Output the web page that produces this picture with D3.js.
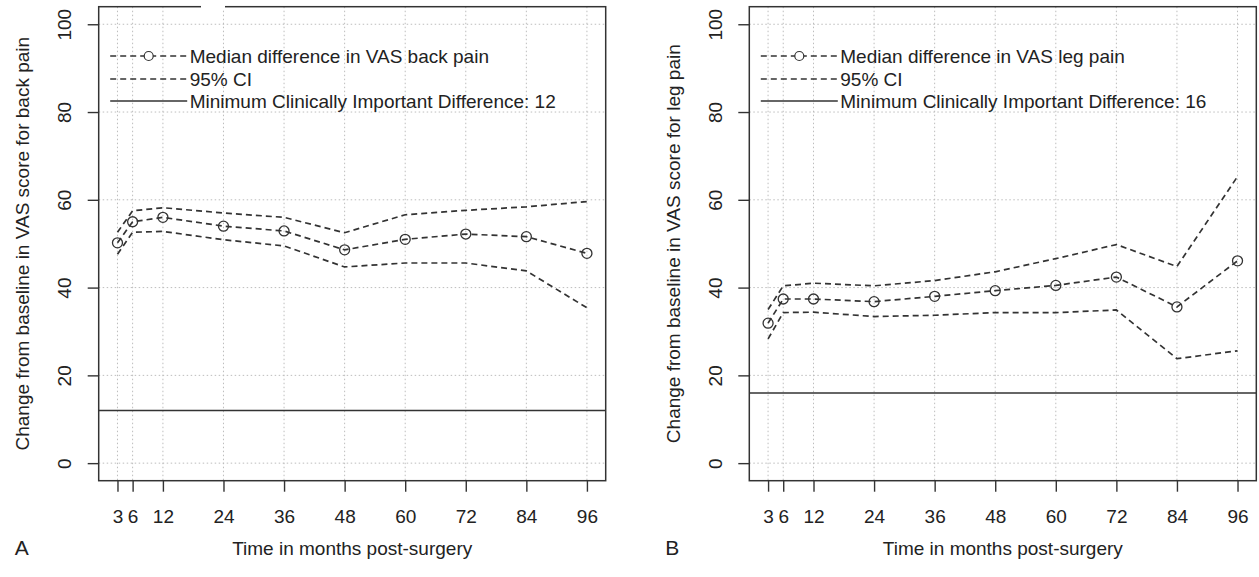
<!DOCTYPE html>
<html>
<head>
<meta charset="utf-8">
<script src="https://cdn.jsdelivr.net/npm/d3@7"></script>
<style>
  body { margin: 0; background: #fff; }
  svg text { font-family: "Liberation Sans", Arial, sans-serif; fill: #222; }
</style>
</head>
<body>
<svg id="chart"></svg>
<script>
// months after surgery
const months = [3, 6, 12, 24, 36, 48, 60, 72, 84, 96]
const yTicks = [0, 20, 40, 60, 80, 100]

// panel A: back pain
const backMedian = [50.2, 55, 56, 54, 52.9, 48.6, 51, 52.2, 51.6, 47.8]
const backLower = [47.6, 52.6, 52.8, 50.9, 49.5, 44.7, 45.6, 45.6, 43.8, 35.4]
const backUpper = [52.6, 57.5, 58.2, 57, 56, 52.5, 56.6, 57.6, 58.4, 59.6]

// panel B: leg pain
const legMedian = [31.9, 37.4, 37.4, 36.8, 38, 39.3, 40.5, 42.4, 35.6, 46.1]
const legLower = [28.3, 34.3, 34.4, 33.4, 33.7, 34.3, 34.3, 34.9, 23.8, 25.6]
const legUpper = [35, 40.4, 41, 40.4, 41.6, 43.6, 46.6, 49.8, 44.8, 65.3]

const mcidValues = [12, 16]
const panelLetters = ["A", "B"]
const painNames = ["back pain", "leg pain"]

const W = 1259, H = 577
const INK = "#333"

const svg = d3.select("#chart").attr("width", W).attr("height", H)

const panels = [
  {left: 98.7, median: backMedian, lower: backLower, upper: backUpper},
  {left: 749.3, median: legMedian, lower: legLower, upper: legUpper}
]

function drawPanel(p, i) {
  const top = 6.7, bottom = 480.7, width = 507
  const x = d3.scaleLinear().domain([-0.72, 99.72]).range([p.left, p.left + width])
  const y = d3.scaleLinear().domain([-4, 104]).range([bottom, top])
  const g = svg.append("g")

  // dotted grid
  g.append("g").selectAll("line")
    .data(months).enter().append("line")
    .attr("x1", d => x(d)).attr("x2", d => x(d))
    .attr("y1", top).attr("y2", bottom)
    .attr("stroke", "#bdbdbd").attr("stroke-dasharray", "1.5,2.5")
  g.append("g").selectAll("line")
    .data(yTicks).enter().append("line")
    .attr("x1", p.left).attr("x2", p.left + width)
    .attr("y1", d => y(d)).attr("y2", d => y(d))
    .attr("stroke", "#bdbdbd").attr("stroke-dasharray", "1.5,2.5")

  // MCID
  g.append("line")
    .attr("x1", p.left).attr("x2", p.left + width)
    .attr("y1", y(mcidValues[i])).attr("y2", y(mcidValues[i]))
    .attr("stroke", INK).attr("stroke-width", 1.5)

  const line = d3.line().x((d, k) => x(months[k])).y(d => y(d))

  ;[p.lower, p.upper, p.median].forEach(series => {
    g.append("path")
      .attr("d", line(series))
      .attr("fill", "none")
      .attr("stroke", INK)
      .attr("stroke-width", 1.7)
      .attr("stroke-dasharray", "6,4")
  })

  g.append("g").selectAll("circle")
    .data(p.median).enter().append("circle")
    .attr("cx", (d, k) => x(months[k]))
    .attr("cy", d => y(d))
    .attr("r", 5)
    .attr("fill", "none")
    .attr("stroke", INK)
    .attr("stroke-width", 1.3)

  // frame
  g.append("rect")
    .attr("x", p.left).attr("y", top)
    .attr("width", width).attr("height", bottom - top)
    .attr("fill", "none").attr("stroke", INK).attr("stroke-width", 1.5)

  // axes
  const xAxis = g.append("g")
    .attr("transform", `translate(0,${bottom})`)
    .call(d3.axisBottom(x).tickValues(months).tickSize(11).tickFormat(d3.format("d")))
  xAxis.select(".domain").remove()
  xAxis.selectAll("line").attr("stroke", INK).attr("stroke-width", 1.4)
  xAxis.selectAll("text")
    .attr("y", 35.3).attr("dy", "0.35em")
    .attr("font-size", 19).attr("fill", "#222")
    .style("font-family", "'Liberation Sans', Arial, sans-serif")

  const yAxis = g.append("g")
    .attr("transform", `translate(${p.left},0)`)
    .call(d3.axisLeft(y).tickValues(yTicks).tickSize(11))
  yAxis.select(".domain").remove()
  yAxis.selectAll("line").attr("stroke", INK).attr("stroke-width", 1.4)
  yAxis.selectAll("text")
    .attr("transform", "rotate(-90)")
    .attr("text-anchor", "middle")
    .attr("x", 0).attr("y", -34).attr("dy", "0.35em")
    .attr("font-size", 19).attr("fill", "#222")
    .style("font-family", "'Liberation Sans', Arial, sans-serif")

  // titles
  g.append("text")
    .attr("x", p.left + width / 2).attr("y", 555)
    .attr("text-anchor", "middle").attr("font-size", 19)
    .text("Time in months post-surgery")
  g.append("text")
    .attr("transform", `translate(${p.left - 76},${(top + bottom) / 2}) rotate(-90)`)
    .attr("text-anchor", "middle").attr("dy", "0.35em").attr("font-size", 19)
    .text("Change from baseline in VAS score for " + painNames[i])
  g.append("text")
    .attr("x", p.left - 84).attr("y", 555)
    .attr("font-size", 21)
    .text(panelLetters[i])

  // legend
  const lx0 = p.left + 11.5, lx1 = p.left + 88.5, tx = p.left + 91
  const rows = [56, 79, 101]
  const legend = g.append("g")
  legend.append("line")
    .attr("x1", lx0).attr("x2", lx1).attr("y1", rows[0]).attr("y2", rows[0])
    .attr("stroke", INK).attr("stroke-width", 1.5).attr("stroke-dasharray", "6,4")
  legend.append("circle")
    .attr("cx", (lx0 + lx1) / 2).attr("cy", rows[0]).attr("r", 4.5)
    .attr("fill", "#fff").attr("stroke", INK).attr("stroke-width", 1.2)
  legend.append("line")
    .attr("x1", lx0).attr("x2", lx1).attr("y1", rows[1]).attr("y2", rows[1])
    .attr("stroke", INK).attr("stroke-width", 1.5).attr("stroke-dasharray", "6,4")
  legend.append("line")
    .attr("x1", lx0).attr("x2", lx1).attr("y1", rows[2]).attr("y2", rows[2])
    .attr("stroke", INK).attr("stroke-width", 1.5)
  const labels = [
    "Median difference in VAS " + painNames[i],
    "95% CI",
    "Minimum Clinically Important Difference: " + mcidValues[i]
  ]
  legend.selectAll("text")
    .data(labels).enter().append("text")
    .attr("x", tx).attr("y", (d, k) => rows[k]).attr("dy", "0.35em")
    .attr("font-size", 19)
    .text(d => d)

  // small break in the top border of panel A, as in the source image
  if (i === 0) {
    g.append("rect").attr("x", 201).attr("y", 3).attr("width", 24).attr("height", 7).attr("fill", "#fff")
  }
}

panels.forEach(drawPanel)
</script>
</body>
</html>
